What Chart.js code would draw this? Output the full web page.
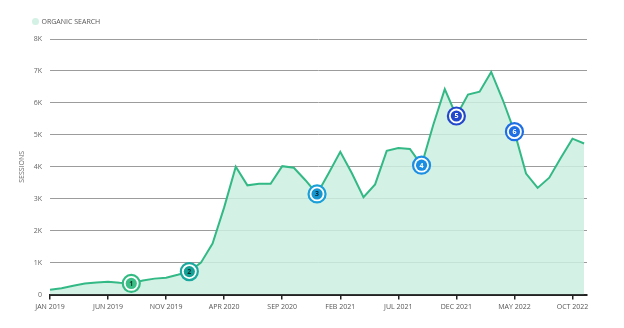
<!DOCTYPE html>
<html>
<head>
<meta charset="utf-8">
<script src="https://cdn.jsdelivr.net/npm/chart.js@4"></script>
<style>
  html, body { margin: 0; padding: 0; background: #fff; }
  #wrap { width: 624px; height: 328px; }
</style>
</head>
<body>
<div id="wrap"><canvas id="sessionsChart"></canvas></div>
<script>
// monthly organic sessions, Jan 2019 .. Nov 2022
const MONTH_NAMES = ["JAN","FEB","MAR","APR","MAY","JUN","JUL","AUG","SEP","OCT","NOV","DEC"];
const START_YEAR = 2019;
const SESSIONS = [
  150, 200, 280, 350, 380, 400, 370, 350, 440, 500, 530, 620,
  720, 1000, 1600, 2730, 4000, 3420, 3470, 3470, 4020, 3970, 3580, 3150,
  3800, 4470, 3800, 3050, 3450, 4500, 4590, 4560, 4050, 5300, 6430, 5590,
  6260, 6350, 6970, 6090, 5100, 3790, 3340, 3660, 4280, 4880, 4730
];
const Y_TICKS = [0, 1000, 2000, 3000, 4000, 5000, 6000, 7000, 8000];
const Y_TICK_LABELS = ["0", "1K", "2K", "3K", "4K", "5K", "6K", "7K", "8K"];

// numbered annotations: index into SESSIONS, ring colour, fill colour, digit colour
const NOTE_INDEX = [7, 12, 23, 32, 35, 40];
const NOTE_TEXT = ["1", "2", "3", "4", "5", "6"];
const NOTE_RING = ["#34bb84", "#1aa89f", "#1b9fd8", "#1c8fe3", "#2448cb", "#1f6fe4"];
const NOTE_FILL = ["#3cbf87", "#13a097", "#1797cf", "#1a8ee3", "#2448cb", "#1f6fe4"];
const NOTE_DIGIT = ["#173a2c", "#0f2f2c", "#0d2c3c", "#ffffff", "#ffffff", "#ffffff"];

const LINE_COLOR = "#33b985";
const FILL_COLOR = "rgba(205,238,224,0.85)";
const FONT = "'Open Sans', sans-serif";

const monthLabels = SESSIONS.map((_, i) =>
  MONTH_NAMES[i % 12] + " " + (START_YEAR + Math.floor(i / 12)));

const points = SESSIONS.map((v, i) => ({ x: i, y: v }));

/* -----------------------------------------------------
   a bit more room under the legend
----------------------------------------------------- */
const legendGapPlugin = {
  id: "legendGap",
  beforeInit(chart) {
    const legend = chart.legend;
    if (!legend) return;
    const fit = legend.fit;
    legend.fit = function () {
      fit.call(this);
      this.height += 4;
    };
  }
};

/* -----------------------------------------------------
   numbered circles on top of the line
----------------------------------------------------- */
const notesPlugin = {
  id: "notes",
  afterDatasetsDraw(chart) {
    const ctx = chart.ctx;
    const meta = chart.getDatasetMeta(0);
    NOTE_INDEX.forEach((idx, n) => {
      const pt = meta.data[idx];
      if (!pt) return;
      ctx.save();
      ctx.beginPath();
      ctx.arc(pt.x, pt.y, 8.5, 0, Math.PI * 2);
      ctx.fillStyle = "#ffffff";
      ctx.fill();
      ctx.lineWidth = 2.2;
      ctx.strokeStyle = NOTE_RING[n];
      ctx.stroke();
      ctx.beginPath();
      ctx.arc(pt.x, pt.y, 5.6, 0, Math.PI * 2);
      ctx.fillStyle = NOTE_FILL[n];
      ctx.fill();
      ctx.fillStyle = NOTE_DIGIT[n];
      ctx.font = "bold 7px " + FONT;
      ctx.textAlign = "center";
      ctx.textBaseline = "middle";
      ctx.fillText(NOTE_TEXT[n], pt.x, pt.y + 0.5);
      ctx.restore();
    });
  }
};

new Chart(document.getElementById("sessionsChart"), {
  type: "line",
  data: {
    datasets: [{
      label: "ORGANIC SEARCH",
      data: points,
      borderColor: LINE_COLOR,
      backgroundColor: FILL_COLOR,
      borderWidth: 2,
      fill: "origin",
      tension: 0,
      pointRadius: 0,
      pointHoverRadius: 0
    }]
  },
  options: {
    responsive: true,
    maintainAspectRatio: false,
    animation: false,
    layout: { padding: { left: 18, right: 37, top: 3, bottom: 14 } },
    plugins: {
      legend: {
        align: "start",
        labels: {
          usePointStyle: true,
          pointStyle: "circle",
          boxWidth: 5,
          boxHeight: 5,
          padding: 15,
          color: "#555",
          font: { family: FONT, size: 7 },
          generateLabels(chart) {
            return [{
              text: "ORGANIC SEARCH",
              fillStyle: FILL_COLOR,
              strokeStyle: FILL_COLOR,
              lineWidth: 0,
              pointStyle: "circle",
              fontColor: "#555",
              datasetIndex: 0
            }];
          }
        }
      },
      tooltip: { enabled: false }
    },
    scales: {
      x: {
        type: "linear",
        min: 0,
        max: SESSIONS.length - 0.75,
        border: { display: true, color: "#222", width: 2 },
        grid: {
          drawOnChartArea: false,
          drawTicks: true,
          tickLength: 5,
          color: "#222",
          lineWidth: 1.5
        },
        ticks: {
          stepSize: 5,
          includeBounds: false,
          maxRotation: 0,
          autoSkip: false,
          padding: 3,
          color: "#555",
          font: { family: FONT, size: 7 },
          callback: (v) => monthLabels[v] || ""
        }
      },
      y: {
        min: 0,
        max: 8000,
        afterBuildTicks(scale) {
          scale.ticks = Y_TICKS.map((v) => ({ value: v }));
        },
        afterFit(scale) {
          scale.width = 32;
        },
        border: { display: false },
        grid: {
          drawTicks: false,
          color: "#9c9c9c",
          lineWidth: 1
        },
        ticks: {
          padding: 8,
          color: "#666",
          font: { family: FONT, size: 7 },
          callback: (v) => Y_TICK_LABELS[Y_TICKS.indexOf(v)]
        },
        title: {
          display: true,
          text: "SESSIONS",
          color: "#666",
          padding: 0,
          font: { family: FONT, size: 7 }
        }
      }
    }
  },
  plugins: [legendGapPlugin, notesPlugin]
});
</script>
</body>
</html>
